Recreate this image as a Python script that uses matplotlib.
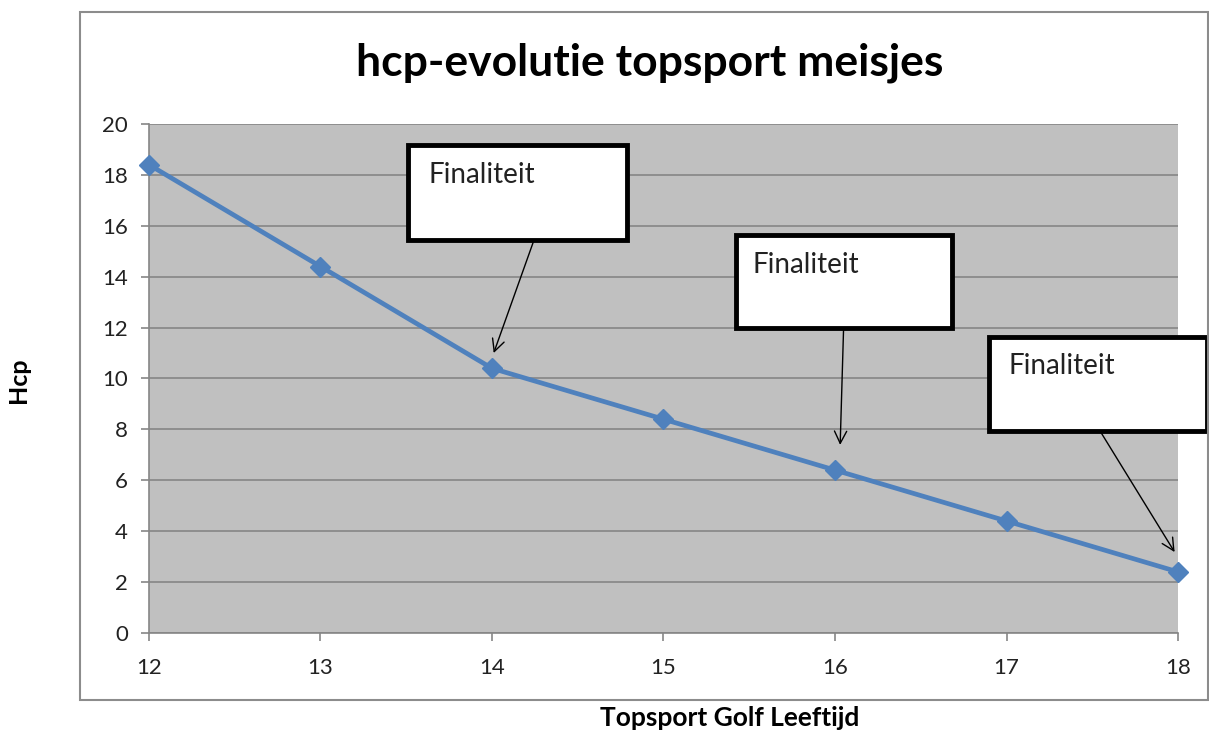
import matplotlib
matplotlib.use("Agg")
import matplotlib.pyplot as plt
from matplotlib.patches import Rectangle

plt.rcParams['font.family'] = ['Lato', 'DejaVu Sans']

ages = [12, 13, 14, 15, 16, 17, 18]
hcp = [18.4, 14.4, 10.4, 8.4, 6.4, 4.4, 2.4]
yticks = [0, 2, 4, 6, 8, 10, 12, 14, 16, 18, 20]
title = "hcp-evolutie topsport meisjes"
xlabel = "Topsport Golf Leeftijd"
ylabel = "Hcp"
note_text = "Finaliteit"
# annotation boxes: (x0, y0, x1, y1) in data coords, text pos, arrow start, arrow tip
boxes = [(13.51, 15.44, 14.79, 19.17), (15.42, 11.98, 16.68, 15.64), (16.90, 7.94, 18.17, 11.63)]
text_pos = [(13.63, 18.0), (15.52, 14.46), (17.01, 10.49)]
arrow_start = [(14.245, 15.44), (16.05, 11.98), (17.545, 7.94)]
arrow_tip = [(14.01, 11.0), (16.03, 7.39), (17.98, 3.18)]

fig = plt.figure(figsize=(12.09, 7.34), dpi=100)
fig.patch.set_facecolor('white')
# outer chart border
fig.add_artist(Rectangle((0.0662, 0.0463), 0.933, 0.9374, transform=fig.transFigure,
                         fill=False, edgecolor='#8c8c8c', linewidth=1.5))

ax = fig.add_axes([0.1232, 0.1376, 0.8512, 0.6935])
ax.set_facecolor('#c0c0c0')
ax.set_xlim(12, 18)
ax.set_ylim(0, 20)
ax.set_yticks(yticks)
ax.set_xticks(ages)
ax.grid(axis='y', color='#868686', linewidth=1.2)
ax.set_axisbelow(True)
for s in ax.spines.values():
    s.set_color('#868686')
    s.set_linewidth(1.2)
ax.spines['top'].set_visible(False)
ax.spines['right'].set_visible(False)
ax.tick_params(axis='both', colors='#868686', length=6, width=1.2, labelcolor='#222222', labelsize=16)
ax.tick_params(axis='x', pad=12)
ax.tick_params(axis='y', pad=9)

ax.plot(ages, hcp, color='#4f81bd', linewidth=3.4, marker='D', markersize=10, clip_on=False, zorder=3)

for (x0, y0, x1, y1), tp, st, tip in zip(boxes, text_pos, arrow_start, arrow_tip):
    ax.add_patch(Rectangle((x0, y0), x1 - x0, y1 - y0, facecolor='white', edgecolor='black',
                           linewidth=3.5, clip_on=False, zorder=5))
    ax.text(tp[0], tp[1], note_text, fontsize=20, color='#222222', va='center', ha='left',
            zorder=6, clip_on=False)
    ax.annotate('', xy=tip, xytext=st, zorder=6, annotation_clip=False,
                arrowprops=dict(arrowstyle='->', color='black', lw=1.0, mutation_scale=22,
                                shrinkA=0, shrinkB=0))

fig.text(0.5376, 0.914, title, fontsize=32, fontweight='bold', ha='center', va='center', color='black')
fig.text(0.6037, 0.022, xlabel, fontsize=19, fontweight='bold', ha='center', va='center')
fig.text(0.0149, 0.482, ylabel, fontsize=18, fontweight='bold', ha='center', va='center', rotation=90)

fig.savefig('out.png', dpi=100)
